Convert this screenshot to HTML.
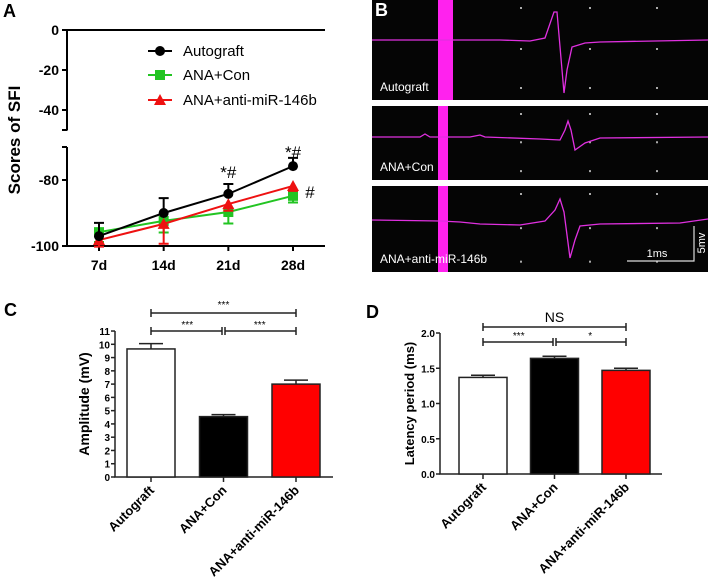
<!DOCTYPE html>
<html><head><meta charset="utf-8"><style>
body{margin:0;background:#fff}
svg{display:block;font-family:"Liberation Sans",Arial,sans-serif}
</style></head><body>
<svg id="fig" width="708" height="587" viewBox="0 0 708 587">
<g id="pa"></g>
<g id="pb"></g>
<g id="pc"></g>
<g id="pd"></g>
</svg>
<script>
// Panel A data
const sfiDays = ["7d","14d","21d","28d"];
const autograftSFI = [-97, -90, -84.2, -75.8];
const autograftErr = [4, 4.5, 3, 2.5];
const conSFI = [-95.8, -92.4, -89.7, -84.8];
const conErr = [3, 3.5, 3.5, 2];
const antiSFI = [-98.2, -93.3, -87.3, -81.8];
const antiErr = [2, 6, 2, 1.5];
const sfiUpperTicks = [0, -20, -40];
const sfiLowerTicks = [-80, -100];
// Panel C data
const groups = ["Autograft","ANA+Con","ANA+anti-miR-146b"];
const amplitude = [9.65, 4.55, 7.0];
const amplitudeErr = [0.4, 0.15, 0.3];
const ampTicks = [0,1,2,3,4,5,6,7,8,9,10,11];
// Panel D data
const latency = [1.37, 1.64, 1.47];
const latencyErr = [0.03, 0.03, 0.03];
const latTicks = [0, 0.5, 1.0, 1.5, 2.0];
const latTickLabels = ["0.0","0.5","1.0","1.5","2.0"];

const NS="http://www.w3.org/2000/svg";
function mk(parent, tag, attrs, text){
  const e=document.createElementNS(NS,tag);
  for(const k in attrs) e.setAttribute(k,attrs[k]);
  if(text!==undefined) e.textContent=text;
  parent.appendChild(e); return e;
}
// ---------- Panel A ----------
const pa=document.getElementById('pa');
const axA=67;
const xA=i=>99+i*64.67;
function yA(v){ return v>=-50 ? 30 - v*2 : 180 - (v+80)*3.3; }
let t=mk(pa,'text',{x:3,y:17,'font-size':18,'font-weight':'bold'},'A');


t=mk(pa,'text',{x:0,y:0,'font-size':17,'font-weight':'bold','text-anchor':'middle',transform:'translate(20,140) rotate(-90)'},'Scores of SFI');


let l=mk(pa,'path',{d:`M${axA},${yA(0)}V${yA(-50)+0.5}M${axA},${yA(-70)}V246H325`,stroke:'#000','stroke-width':2,fill:'none'});


mk(pa,'path',{d:`M${axA},${yA(0)}H325M${axA-5},${yA(-50)}H${axA}M${axA-5},${yA(-70)}H${axA}`,stroke:'#000','stroke-width':2});
sfiUpperTicks.concat(sfiLowerTicks).forEach(v=>{
  const y=yA(v);
  mk(pa,'line',{x1:axA-5,x2:axA,y1:y,y2:y,stroke:'#000','stroke-width':2});
  const tt=mk(pa,'text',{x:axA-8,y:y+5,'font-size':14,'font-weight':'bold','text-anchor':'end'},String(v));
  
  
});
sfiDays.forEach((d,i)=>{
  mk(pa,'line',{x1:xA(i),x2:xA(i),y1:246,y2:251,stroke:'#000','stroke-width':2});
  const tt=mk(pa,'text',{x:xA(i),y:270,'font-size':14,'font-weight':'bold','text-anchor':'middle'},d);
  
  
});
function series(vals,errs,color,marker,name,errDir){
  const g=mk(pa,'g',{});
  
  
  mk(g,'polyline',{points:vals.map((v,i)=>xA(i)+','+yA(v)).join(' '),fill:'none',stroke:color,'stroke-width':2});
  vals.forEach((v,i)=>{
    const x=xA(i),y=yA(v),ye=yA(v+errDir*errs[i]);
    mk(g,'path',{d:`M${x},${y}V${ye}M${x-5},${ye}H${x+5}`,stroke:color,'stroke-width':2});
    let m;
    if(marker==='c') m=mk(g,'circle',{cx:x,cy:y,r:5,fill:color});
    else if(marker==='s') m=mk(g,'rect',{x:x-5,y:y-5,width:10,height:10,fill:color});
    else m=mk(g,'polygon',{points:`${x},${y-6} ${x+6},${y+5} ${x-6},${y+5}`,fill:color});
    
    
  });
}
series(conSFI,conErr,'#22c422','s','ana-con-series',-1);
series(antiSFI,antiErr,'#ee1111','t','ana-anti-series',-1);
series(autograftSFI,autograftErr,'#000','c','autograft-series',1);
[["Autograft",'#000','c',51],["ANA+Con",'#22c422','s',75],["ANA+anti-miR-146b",'#ee1111','t',100]].forEach(([n,c,m,y])=>{
  const g=mk(pa,'g',{});
  
  
  mk(g,'line',{x1:148,x2:172,y1:y,y2:y,stroke:c,'stroke-width':2});
  if(m==='c') mk(g,'circle',{cx:160,cy:y,r:5,fill:c});
  else if(m==='s') mk(g,'rect',{x:155,y:y-5,width:10,height:10,fill:c});
  else mk(g,'polygon',{points:`160,${y-6} 166,${y+5} 154,${y+5}`,fill:c});
  mk(g,'text',{x:183,y:y+5,'font-size':15},n);
});
[[xA(2),178,'*#'],[xA(3),158,'*#'],[310,198,'#']].forEach(([x,y,s])=>{
  const tt=mk(pa,'text',{x:x,y:y,'font-size':17,'text-anchor':'middle'},s);
  
  
});
// ---------- Panel B ----------
const pb=document.getElementById('pb');
const traces=[
 {y0:0,y1:100,base:40,label:'Autograft',pts:[[372,40],[430,40],[500,40],[530,41],[545,38],[554,12],[557,12],[564,93],[567,70],[572,47],[585,43],[600,42],[708,40]],bar:[438,15]},
 {y0:106,y1:180,base:137,label:'ANA+Con',pts:[[372,137],[420,137],[425,134],[430,137],[470,137],[480,135],[485,137],[540,139],[560,140],[565,130],[568,121],[571,130],[575,150],[585,143],[600,138],[708,137]],bar:[438,10]},
 {y0:186,y1:272,base:220,label:'ANA+anti-miR-146b',pts:[[372,220],[440,221],[460,222],[480,224],[520,225],[545,221],[555,210],[560,199],[564,212],[570,258],[575,240],[580,226],[600,224],[680,223],[708,219]],bar:[438,10]}
];
traces.forEach((tr,k)=>{
  const g=mk(pb,'g',{});
  
  
  mk(g,'rect',{x:372,y:tr.y0,width:336,height:tr.y1-tr.y0,fill:'#050505'});
  mk(g,'rect',{x:tr.bar[0],y:tr.y0,width:tr.bar[1],height:tr.y1-tr.y0,fill:'#ff22ee'});
  [521,590,657].forEach(x=>[tr.y0+8,tr.y0+(tr.y1-tr.y0)*0.49,tr.y0+(tr.y1-tr.y0)*0.88].forEach(y=>mk(g,'rect',{x:x-1,y:y-1,width:2,height:2,fill:'#aaa'})));
  mk(g,'polyline',{points:tr.pts.map(p=>p.join(',')).join(' '),fill:'none',stroke:'#e030e0','stroke-width':1.3});
  mk(g,'text',{x:380,y:tr.y1-9,'font-size':12,fill:'#fff'},tr.label);
});
t=mk(pb,'text',{x:375,y:16,'font-size':18,'font-weight':'bold',fill:'#fff'},'B');


l=mk(pb,'path',{d:'M627,261H694V226',stroke:'#ddd','stroke-width':1.2,fill:'none'});


mk(pb,'text',{x:657,y:257,'font-size':11,fill:'#fff','text-anchor':'middle'},'1ms');
mk(pb,'text',{x:0,y:0,'font-size':11,fill:'#fff','text-anchor':'middle',transform:'translate(705,243) rotate(-90)'},'5mv');
// ---------- Bar panels ----------
function barPanel(p,o){
  const y=v=>o.y0-(v-o.vmin)*o.scale;
  let tt=mk(p,'text',{x:o.lx,y:o.ly,'font-size':18,'font-weight':'bold'},o.letter);
  
  
  tt=mk(p,'text',{x:0,y:0,'font-size':o.titleFs,'font-weight':'bold','text-anchor':'middle',transform:`translate(${o.tx},${(y(o.ticks[o.ticks.length-1])+o.y0)/2}) rotate(-90)`},o.title);
  
  
  mk(p,'path',{d:`M${o.ax},${y(o.ticks[o.ticks.length-1])}V${o.y0}H${o.axEnd}`,stroke:'#222','stroke-width':1.5,fill:'none'});
  o.ticks.forEach((v,i)=>{
    mk(p,'line',{x1:o.ax-4,x2:o.ax,y1:y(v),y2:y(v),stroke:'#222','stroke-width':1.5});
    const q=mk(p,'text',{x:o.ax-5,y:y(v)+4,'font-size':o.tfs,'font-weight':'bold','text-anchor':'end'},o.labels[i]);
    
    
  });
  const fills=['#fff','#000','#ff0000'];
  groups.forEach((gname,i)=>{
    const cx=o.x0+i*o.dx, v=o.vals[i], e=o.errs[i];
    mk(p,'path',{d:`M${cx},${y(v)}V${y(v+e)}M${cx-o.bw/4},${y(v+e)}H${cx+o.bw/4}`,stroke:'#222','stroke-width':1.5});
    const b=mk(p,'rect',{x:cx-o.bw/2,y:y(v),width:o.bw,height:o.y0-y(v),fill:fills[i],stroke:'#222','stroke-width':1.5});
    
    
    mk(p,'line',{x1:cx,x2:cx,y1:o.y0,y2:o.y0+5,stroke:'#222','stroke-width':1.5});
    const q=mk(p,'text',{x:0,y:0,'font-size':13,'font-weight':'bold','text-anchor':'end',transform:`translate(${cx+4},${o.y0+14}) rotate(-45)`},gname);
    
    
  });
  const a=o.x0,b2=o.x0+o.dx,c=o.x0+2*o.dx;
  const sg=mk(p,'g',{});
  
  
  mk(sg,'path',{d:`M${a},${o.s1-4}V${o.s1+4}M${a},${o.s1}H${c}M${c},${o.s1-4}V${o.s1+4}`,stroke:'#222','stroke-width':1.5,fill:'none'});
  mk(sg,'path',{d:`M${a},${o.s2-4}V${o.s2+4}M${a},${o.s2}H${b2-1.5}M${b2-1.5},${o.s2-4}V${o.s2+4}M${b2+1.5},${o.s2-4}V${o.s2+4}M${b2+1.5},${o.s2}H${c}M${c},${o.s2-4}V${o.s2+4}`,stroke:'#222','stroke-width':1.5,fill:'none'});
  mk(sg,'text',{x:(a+c)/2,y:o.s1-5,'font-size':o.labs[0]==='NS'?14:10,'text-anchor':'middle'},o.labs[0]);
  mk(sg,'text',{x:(a+b2)/2,y:o.s2-3,'font-size':10,'text-anchor':'middle'},o.labs[1]);
  mk(sg,'text',{x:(b2+c)/2,y:o.s2-3,'font-size':10,'text-anchor':'middle'},o.labs[2]);
}
barPanel(document.getElementById('pc'),{letter:'C',lx:4,ly:316,title:'Amplitude (mV)',titleFs:14,tx:89,ax:115,axEnd:333,y0:477,vmin:0,scale:13.27,ticks:ampTicks,labels:ampTicks.map(String),tfs:10,x0:151,dx:72.5,bw:48,vals:amplitude,errs:amplitudeErr,s1:313,s2:331,labs:['***','***','***']});
barPanel(document.getElementById('pd'),{letter:'D',lx:366,ly:318,title:'Latency period (ms)',titleFs:13,tx:414,ax:440,axEnd:662,y0:474,vmin:0,scale:70.5,ticks:latTicks,labels:latTickLabels,tfs:10,x0:483,dx:71.5,bw:48,vals:latency,errs:latencyErr,s1:327,s2:342,labs:['NS','***','*']});
</script>
</body></html>
